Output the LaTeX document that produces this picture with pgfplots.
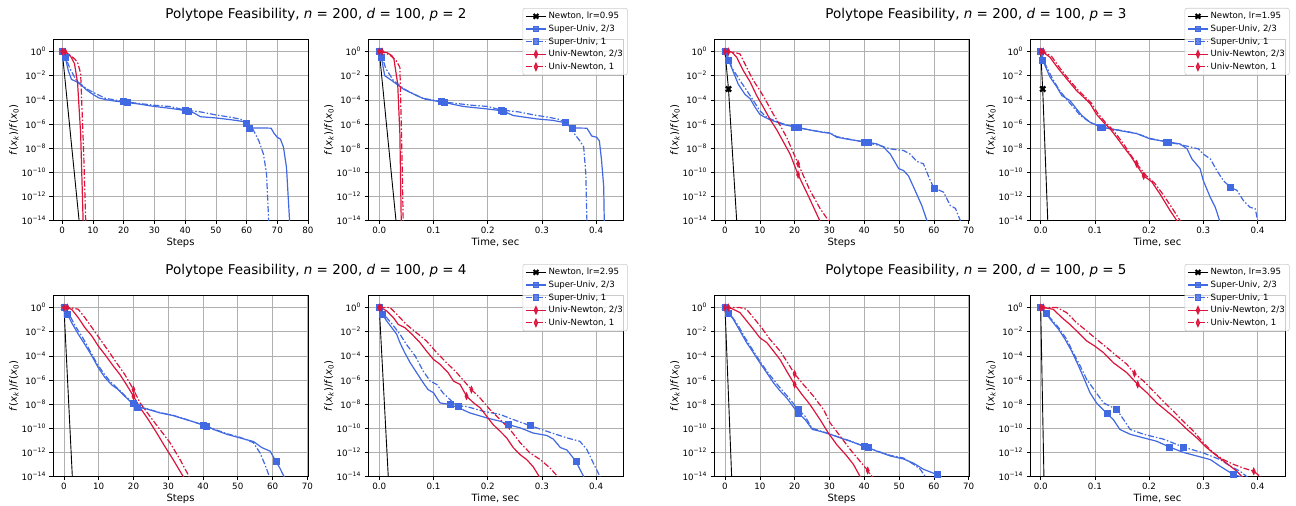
\documentclass[border=0pt]{standalone}
\usepackage{fontspec}
\setmainfont{DejaVu Sans}[ItalicFont={DejaVu Sans Oblique},BoldFont={DejaVu Sans Bold}]
\usepackage{pgfplots}
\pgfplotsset{compat=1.18}

\definecolor{royal}{RGB}{65,105,225}
\definecolor{crim}{RGB}{220,20,60}
\definecolor{gridc}{RGB}{176,176,176}
\definecolor{lgray}{RGB}{204,204,204}

% y data are log10 of f(x_k)/f(x_0); the y axis is labelled in powers of ten
\tikzset{mdd/.style={dash pattern=on 6pt off 2pt on 1.5pt off 2pt}}
\pgfplotsset{
  pf/.style={
    scale only axis, height=181pt, width=255pt,
    ymin=-14, ymax=1,
    ytick={-14,-12,...,0},
    yticklabels={10\textsuperscript{−14},10\textsuperscript{−12},10\textsuperscript{−10},10\textsuperscript{−8},10\textsuperscript{−6},10\textsuperscript{−4},10\textsuperscript{−2},10\textsuperscript{0}},
    grid=major, major grid style={gridc, line width=0.6pt},
    axis line style={line width=0.7pt},
    tick align=outside, xtick pos=bottom, ytick pos=left,
    major tick length=3.5pt, every tick/.style={black, line width=0.6pt},
    tick label style={font=\fontsize{8.7}{10}\selectfont},
    /pgf/number format/assume math mode=true,
    label style={font=\fontsize{8.7}{10}\selectfont},
    every axis x label/.style={at={(axis description cs:0.5,0)}, yshift=-22pt, anchor=center},
    every axis y label/.style={at={(axis description cs:0,0.5)}, xshift=-39pt, rotate=90, anchor=center},
    ylabel={\textit{f}(\textit{x}\textsubscript{\textit{k}})/\textit{f}(\textit{x}\textsubscript{0})},
    legend style={at={(1.018,1.174)}, anchor=north east, draw=lgray, line width=0.6pt,
      rounded corners=2pt, fill=white, fill opacity=0.8, text opacity=1,
      font=\fontsize{8.6}{9}\selectfont, inner xsep=2.5pt, inner ysep=2pt, row sep=0.6pt,
      nodes={font=\fontsize{8.6}{9}\selectfont}},
    legend cell align=left,
    legend image code/.code={\draw[mark repeat=2, mark phase=2, #1]
      plot coordinates {(0pt,0pt) (10pt,0pt) (20pt,0pt)};},
  },
  steps/.style={xlabel=Steps, xtick={0,10,...,80}},
  time/.style={xlabel={Time, sec}, xtick={0,0.1,0.2,0.3,0.4},
    xticklabels={0.0,0.1,0.2,0.3,0.4}},
  newt/.style={black, line width=0.9pt, forget plot},
  ss/.style={royal, line width=1.2pt, forget plot},
  sd/.style={royal, line width=1.2pt, mdd, forget plot},
  us/.style={crim, line width=1.2pt, forget plot},
  ud/.style={crim, line width=1.2pt, mdd, forget plot},
  xm/.style={only marks, black, mark=x, mark size=3.6pt, mark options={line width=2.3pt}, forget plot},
  sqm/.style={only marks, royal, mark=square*, mark size=3pt, forget plot},
  dim/.style={only marks, crim, mark=diamond*, mark size=3.7pt, mark options={xscale=0.6}, forget plot},
}

\newcommand{\pflegend}[1]{%
  \addlegendimage{black, line width=1pt, mark=x, mark size=3.3pt, mark options={line width=2.1pt}}
  \addlegendentry{Newton, lr=#1}
  \addlegendimage{royal, line width=1.2pt, mark=square*, mark size=2.8pt}
  \addlegendentry{Super-Univ, 2/3}
  \addlegendimage{royal, line width=1.2pt, mdd, mark=square*, mark size=2.8pt, mark options={solid}}
  \addlegendentry{Super-Univ, 1}
  \addlegendimage{crim, line width=1.2pt, mark=diamond*, mark size=3.5pt, mark options={xscale=0.6}}
  \addlegendentry{Univ-Newton, 2/3}
  \addlegendimage{crim, line width=1.2pt, mdd, mark=diamond*, mark size=3.5pt, mark options={solid,xscale=0.6}}
  \addlegendentry{Univ-Newton, 1}}

\begin{document}
\begin{tikzpicture}
\useasboundingbox (0,0) rectangle (1296pt,506pt);

% ---------------- p = 2, steps
\begin{axis}[pf, steps, at={(53pt,285.5pt)}, xmin=-3, xmax=80]
\addplot[newt] coordinates {(0,0)(6,-15.3)};
\addplot[ss] coordinates {(0,0)(1,-0.5)(2,-1.6)(3,-2.3)(5,-2.55)(6.3,-2.8)(8,-3.2)(10,-3.55)(12,-3.85)(14.5,-4.0)(17,-4.1)(21,-4.22)(25,-4.35)(30,-4.55)(35,-4.7)(41,-4.92)(43,-5.1)(45,-5.4)(50,-5.5)(55,-5.65)(59,-5.8)(61,-6.33)(65,-6.33)(68,-6.35)(69,-6.8)(70,-7.1)(71,-7.25)(72,-7.9)(73,-9.6)(73.5,-11.8)(74,-14)(74.3,-16)};
\addplot[sd] coordinates {(0,0)(1,-0.4)(2.5,-1.4)(4.6,-2.4)(8,-3.1)(10,-3.37)(14,-3.87)(17,-4.0)(20,-4.15)(25,-4.3)(30,-4.45)(35,-4.55)(40,-4.85)(45,-5.0)(50,-5.25)(55,-5.45)(58,-5.6)(60,-5.9)(62,-6.4)(64,-7.4)(65.5,-8.5)(66.5,-10.1)(67.2,-14)(67.4,-16)};
\addplot[us] coordinates {(0,0)(1,-0.02)(2,-0.2)(3,-0.5)(4,-1.0)(5,-2.6)(6,-6.8)(7,-15.8)};
\addplot[ud] coordinates {(0,0)(1,-0.02)(2,-0.2)(3,-0.4)(4,-0.6)(5,-0.9)(6,-1.8)(7,-8.5)(8,-17)};
\addplot[xm] coordinates {(0,0)};
\addplot[sqm] coordinates {(0,0)(1,-0.5)(21,-4.22)(41,-4.92)(61,-6.33)(20,-4.15)(40,-4.85)(60,-5.9)};
\addplot[dim] coordinates {(0,0)(1,-0.02)};
\end{axis}

% ---------------- p = 2, time
\begin{axis}[pf, time, at={(368pt,285.5pt)}, xmin=-0.0208, xmax=0.4496]
\pflegend{0.95}
\addplot[newt] coordinates {(0,0)(0.033,-15)};
\addplot[ss] coordinates {(0,0)(0.004,-0.5)(0.010,-2.0)(0.023,-2.4)(0.044,-3.1)(0.069,-3.65)(0.085,-3.95)(0.1,-4.06)(0.12,-4.22)(0.155,-4.55)(0.198,-4.75)(0.228,-4.92)(0.247,-5.3)(0.29,-5.58)(0.32,-5.7)(0.343,-5.9)(0.355,-6.33)(0.383,-6.35)(0.392,-7.0)(0.401,-7.1)(0.406,-7.4)(0.41,-9)(0.414,-11.2)(0.415,-14)(0.416,-16)};
\addplot[sd] coordinates {(0,0)(0.005,-0.4)(0.012,-1.4)(0.026,-2.4)(0.046,-3.1)(0.057,-3.37)(0.08,-3.87)(0.097,-4.0)(0.114,-4.15)(0.142,-4.3)(0.171,-4.45)(0.2,-4.55)(0.225,-4.85)(0.257,-5.0)(0.285,-5.25)(0.313,-5.45)(0.33,-5.6)(0.343,-5.85)(0.358,-6.7)(0.37,-7.4)(0.377,-7.9)(0.381,-10.1)(0.383,-14)(0.384,-16)};
\addplot[us] coordinates {(0,0)(0.005,0)(0.015,-0.1)(0.023,-0.33)(0.027,-0.6)(0.034,-2.7)(0.038,-6.8)(0.041,-15.5)};
\addplot[ud] coordinates {(0,0)(0.005,0)(0.02,-0.3)(0.031,-0.75)(0.038,-1.3)(0.041,-6.8)(0.045,-16)};
\addplot[xm] coordinates {(0,0)};
\addplot[sqm] coordinates {(0,0)(0.004,-0.5)(0.12,-4.22)(0.228,-4.92)(0.355,-6.33)(0.114,-4.15)(0.225,-4.85)(0.343,-5.85)};
\addplot[dim] coordinates {(0,0)(0.005,0)};
\end{axis}

% ---------------- p = 3, steps
\begin{axis}[pf, steps, at={(714pt,285.5pt)}, xmin=-3.16, xmax=70.1]
\addplot[newt] coordinates {(0,0)(1,-3.1)(4,-17)};
\addplot[ss] coordinates {(0,0)(1,-0.7)(3.8,-2.7)(5.75,-3.55)(7.2,-3.9)(8.6,-4.6)(10,-5.2)(11.5,-5.45)(12.9,-5.65)(14.9,-5.85)(16.8,-6.05)(21,-6.3)(24.4,-6.5)(28.3,-6.7)(30.2,-6.77)(32.1,-7.1)(36,-7.3)(41,-7.52)(43.6,-7.65)(45.5,-7.9)(47.5,-8.5)(49.9,-9.7)(51.3,-9.86)(52.7,-10.3)(54.6,-11.5)(56.6,-12.8)(58,-14)(58.5,-15)};
\addplot[sd] coordinates {(0,0)(1,-0.4)(1.9,-1.3)(4.3,-2.4)(6.2,-3.2)(8.15,-4.06)(10,-4.9)(12,-5.45)(14.9,-5.8)(16.8,-6.0)(20,-6.25)(24.4,-6.5)(28.3,-6.68)(30.2,-6.75)(32.1,-7.05)(36,-7.28)(40,-7.5)(44.6,-7.8)(47.5,-8.07)(51.3,-8.2)(53.2,-8.5)(55.1,-9.1)(57,-9.3)(59,-10.7)(60,-11.3)(62.8,-11.65)(64.7,-12.75)(66.2,-13)(67.6,-14)(68,-15)};
\addplot[us] coordinates {(0,0)(1,0)(2,-0.05)(3.35,-0.47)(5.3,-1.6)(7.2,-2.5)(9.1,-3.65)(11,-4.6)(12.9,-5.6)(14.9,-6.5)(16.8,-7.5)(18.7,-8.5)(21,-10.2)(24,-12)(27.2,-14)(28,-14.5)};
\addplot[ud] coordinates {(0,0)(1,0)(2.5,-0.05)(4.3,-0.2)(6.2,-1.3)(8.15,-2.4)(10,-3.2)(12,-4.2)(13.9,-5.2)(15.8,-6.1)(17.7,-7.1)(21,-9.3)(24.4,-11.5)(27.3,-13)(29.7,-14)(30.5,-14.5)};
\addplot[xm] coordinates {(0,0)(1,-3.1)};
\addplot[sqm] coordinates {(0,0)(1,-0.7)(21,-6.3)(41,-7.52)(20,-6.25)(40,-7.5)(60,-11.3)};
\addplot[dim] coordinates {(0,0)(1,0)(21,-10.2)(21,-9.3)};
\end{axis}

% ---------------- p = 3, time
\begin{axis}[pf, time, at={(1030pt,285.5pt)}, xmin=-0.0197, xmax=0.4507]
\pflegend{1.95}
\addplot[newt] coordinates {(0,0)(0.0037,-3.1)(0.0156,-17)};
\addplot[ss] coordinates {(0,0)(0.0037,-0.7)(0.017,-2.1)(0.030,-2.95)(0.039,-3.65)(0.054,-4.06)(0.066,-4.75)(0.076,-5.3)(0.091,-5.86)(0.113,-6.27)(0.146,-6.55)(0.177,-6.8)(0.202,-7.24)(0.236,-7.5)(0.257,-7.65)(0.27,-8.06)(0.279,-8.9)(0.294,-9.7)(0.300,-10.7)(0.313,-12.1)(0.322,-12.9)(0.33,-14)(0.333,-15)};
\addplot[sd] coordinates {(0,0)(0.008,-1)(0.02,-2.1)(0.033,-3.1)(0.045,-3.8)(0.06,-4.6)(0.073,-5.3)(0.091,-5.86)(0.11,-6.25)(0.146,-6.52)(0.177,-6.78)(0.202,-7.2)(0.232,-7.48)(0.251,-7.65)(0.276,-7.9)(0.291,-8.07)(0.3,-8.5)(0.313,-8.9)(0.325,-9.86)(0.337,-10.7)(0.35,-11.25)(0.362,-11.5)(0.374,-12.35)(0.386,-12.9)(0.396,-13.04)(0.4,-14)(0.402,-15)};
\addplot[us] coordinates {(0,0)(0.003,0)(0.017,-0.47)(0.033,-1.44)(0.048,-2.26)(0.066,-3.23)(0.082,-3.9)(0.091,-4.3)(0.103,-5.2)(0.116,-5.86)(0.128,-6.4)(0.14,-7.1)(0.153,-7.9)(0.165,-8.6)(0.19,-10.3)(0.205,-10.8)(0.22,-11.8)(0.239,-13.2)(0.251,-14)(0.255,-14.3)};
\addplot[ud] coordinates {(0,0)(0.005,0)(0.02,-0.4)(0.036,-1.4)(0.05,-2.2)(0.068,-3.15)(0.084,-3.85)(0.094,-4.3)(0.105,-5.1)(0.118,-5.8)(0.13,-6.35)(0.142,-7.0)(0.155,-7.8)(0.177,-9.3)(0.195,-10.3)(0.21,-10.9)(0.225,-11.8)(0.243,-13.0)(0.257,-14)(0.26,-14.3)};
\addplot[xm] coordinates {(0,0)(0.0037,-3.1)};
\addplot[sqm] coordinates {(0,0)(0.0037,-0.7)(0.113,-6.27)(0.236,-7.5)(0.11,-6.25)(0.232,-7.48)(0.35,-11.25)};
\addplot[dim] coordinates {(0,0)(0.005,0)(0.19,-10.3)(0.177,-9.3)};
\end{axis}

% ---------------- p = 4, steps
\begin{axis}[pf, steps, at={(53pt,29.5pt)}, xmin=-3.16, xmax=70.2]
\addplot[newt] coordinates {(0,0)(3,-17.5)};
\addplot[ss] coordinates {(0,0)(1,-0.55)(2.2,-1.25)(4.1,-2.2)(6,-3.05)(8,-4.0)(9.9,-5)(11.8,-5.8)(13.7,-6.4)(15.6,-6.8)(17.5,-7.35)(19.5,-7.9)(21,-8.23)(23.8,-8.4)(27.6,-8.73)(31.4,-8.95)(35.3,-9.3)(41,-9.8)(43,-10.1)(46.8,-10.5)(50.6,-10.8)(54.5,-11.1)(56.9,-11.6)(59.3,-11.9)(61,-12.75)(62.1,-13.3)(63.3,-14)(64,-15)};
\addplot[sd] coordinates {(0,0)(1.2,-0.4)(3.2,-1.5)(5.6,-2.6)(7.5,-3.6)(9.4,-4.6)(11.3,-5.4)(13.2,-6.1)(15.6,-6.75)(17.5,-7.3)(20,-7.95)(21,-8.2)(23.8,-8.38)(27.6,-8.7)(31.4,-8.93)(35.3,-9.28)(40,-9.73)(43,-10.05)(46.8,-10.45)(50.6,-10.75)(52.5,-10.95)(54.5,-11.2)(56.4,-12.05)(57.8,-13.0)(59.1,-14)(59.5,-15)};
\addplot[us] coordinates {(0,0)(1,0)(2.2,-0.15)(4.1,-0.83)(6,-1.66)(8,-2.35)(9.9,-3.2)(11.8,-3.9)(14.2,-4.85)(16.1,-5.55)(18,-6.4)(20,-7.35)(21.9,-8.3)(24.3,-9.3)(26.7,-10.4)(29,-11.5)(31.4,-12.6)(34.3,-14)(35,-14.4)};
\addplot[ud] coordinates {(0,0)(1,0)(2.5,-0.05)(4.1,-0.14)(6,-0.83)(8.4,-1.8)(10.4,-2.63)(12.8,-3.6)(15.1,-4.57)(17.5,-5.55)(20,-6.8)(21.9,-7.9)(24.7,-9.0)(27.6,-10.1)(30.5,-11.2)(33.4,-12.6)(36,-14)(37,-14.5)};
\addplot[xm] coordinates {(0,0)};
\addplot[sqm] coordinates {(0,0)(1,-0.55)(21,-8.23)(41,-9.8)(61,-12.75)(20,-7.95)(40,-9.73)};
\addplot[dim] coordinates {(0,0)(1,0)(20,-7.35)(20,-6.8)};
\end{axis}

% ---------------- p = 4, time
\begin{axis}[pf, time, at={(368pt,29.5pt)}, xmin=-0.0208, xmax=0.4496]
\pflegend{2.95}
\addplot[newt] coordinates {(0,0)(0.018,-15.2)};
\addplot[ss] coordinates {(0,0)(0.0055,-0.55)(0.0135,-1.1)(0.023,-1.66)(0.032,-2.2)(0.038,-2.9)(0.047,-3.74)(0.057,-4.57)(0.069,-5.4)(0.081,-6.23)(0.09,-6.8)(0.1,-7.06)(0.112,-7.9)(0.13,-8.03)(0.146,-8.3)(0.167,-8.73)(0.198,-9.14)(0.223,-9.42)(0.238,-9.7)(0.26,-9.97)(0.284,-10.4)(0.309,-10.6)(0.321,-10.9)(0.334,-11.6)(0.346,-11.8)(0.363,-12.75)(0.37,-13.4)(0.377,-14)(0.38,-14.5)};
\addplot[sd] coordinates {(0,0)(0.0135,-0.83)(0.026,-1.5)(0.038,-2.2)(0.05,-3.05)(0.066,-4.0)(0.081,-5.26)(0.094,-6.1)(0.106,-6.37)(0.118,-7.1)(0.137,-7.9)(0.146,-8.15)(0.161,-8.2)(0.192,-8.6)(0.223,-8.86)(0.247,-9.28)(0.278,-9.78)(0.309,-10.25)(0.346,-10.8)(0.37,-11.08)(0.383,-11.77)(0.395,-12.9)(0.407,-14)(0.41,-14.5)};
\addplot[us] coordinates {(0,0)(0.003,0)(0.0135,-0.28)(0.026,-0.83)(0.035,-1.4)(0.047,-1.66)(0.06,-2.2)(0.075,-2.9)(0.087,-3.6)(0.1,-4.3)(0.112,-4.7)(0.127,-5.4)(0.137,-6.1)(0.149,-6.37)(0.161,-7.34)(0.174,-7.9)(0.186,-8.3)(0.198,-9.0)(0.21,-9.7)(0.223,-10.25)(0.235,-10.8)(0.247,-11.6)(0.26,-12.2)(0.272,-12.6)(0.284,-13.2)(0.295,-14)(0.3,-14.4)};
\addplot[ud] coordinates {(0,0)(0.003,0)(0.02,0)(0.032,-0.55)(0.05,-1.4)(0.069,-2.1)(0.087,-2.77)(0.106,-3.74)(0.124,-4.57)(0.143,-5.4)(0.17,-6.8)(0.186,-7.5)(0.204,-8.45)(0.223,-9.28)(0.241,-10.1)(0.26,-11.2)(0.278,-12.05)(0.297,-12.6)(0.315,-13.3)(0.329,-14)(0.335,-14.4)};
\addplot[xm] coordinates {(0,0)};
\addplot[sqm] coordinates {(0,0)(0.0055,-0.55)(0.13,-8.03)(0.238,-9.7)(0.363,-12.75)(0.146,-8.15)(0.278,-9.78)};
\addplot[dim] coordinates {(0,0)(0.003,0)(0.161,-7.34)(0.17,-6.8)};
\end{axis}

% ---------------- p = 5, steps
\begin{axis}[pf, steps, at={(714pt,29.5pt)}, xmin=-3.16, xmax=70.1]
\addplot[newt] coordinates {(0,0)(2.1,-15.4)};
\addplot[ss] coordinates {(0,0)(1,-0.47)(2.4,-0.97)(4.3,-1.94)(6.2,-2.9)(8.15,-3.74)(10,-4.57)(12,-5.4)(13.9,-6.23)(15.8,-6.9)(17.7,-7.48)(19.8,-8.3)(21,-8.73)(23,-9.28)(25.1,-10.1)(27.3,-10.25)(30.2,-10.5)(33.1,-10.8)(36,-11.08)(41,-11.6)(43.6,-11.9)(47.5,-12.3)(51.3,-12.55)(54.2,-12.9)(57,-13.4)(61,-13.85)(62,-14)(63,-14.3)};
\addplot[sd] coordinates {(0,0)(1.9,-0.7)(3.8,-1.5)(5.75,-2.5)(8.15,-3.6)(10,-4.43)(12,-5.26)(13.9,-5.96)(15.8,-6.65)(18.7,-7.6)(20,-8.1)(21,-8.45)(23,-9.0)(24.9,-9.97)(27.3,-10.22)(30.2,-10.48)(33.1,-10.78)(36,-11.05)(40,-11.52)(43.6,-11.88)(47.5,-12.25)(51.3,-12.47)(54.2,-13.0)(56.1,-13.4)(57.5,-14)(58,-14.3)};
\addplot[us] coordinates {(0,0)(1,0)(2.4,-0.14)(4.3,-0.42)(6.2,-1.1)(8.15,-1.8)(10,-2.5)(12,-2.9)(13.9,-3.6)(15.8,-4.3)(17.7,-5.26)(20,-6.37)(22.1,-7.2)(24.4,-8.03)(27.3,-9.28)(29.7,-10.4)(32.1,-11.36)(35,-12.3)(36.9,-13.0)(38.8,-14)(39.5,-14.4)};
\addplot[ud] coordinates {(0,0)(1,0)(4.3,0)(6.2,-0.14)(8.15,-0.83)(10.5,-1.66)(12.9,-2.63)(15.8,-3.6)(17.7,-4.43)(20,-5.5)(22.5,-6.37)(25.4,-7.34)(28.3,-8.45)(30.2,-9.56)(33.1,-10.66)(36,-11.77)(38.8,-12.74)(41,-13.5)(42.2,-14)(43,-14.3)};
\addplot[xm] coordinates {(0,0)};
\addplot[sqm] coordinates {(0,0)(1,-0.47)(21,-8.73)(41,-11.6)(61,-13.85)(21,-8.45)(40,-11.52)};
\addplot[dim] coordinates {(0,0)(1,0)(20,-6.37)(20,-5.5)(41,-13.5)};
\end{axis}

% ---------------- p = 5, time
\begin{axis}[pf, time, at={(1030pt,29.5pt)}, xmin=-0.0197, xmax=0.4507]
\pflegend{3.95}
\addplot[newt] coordinates {(0,0)(0.0065,-15.2)};
\addplot[ss] coordinates {(0,0)(0.0098,-0.47)(0.02,-1.1)(0.033,-1.8)(0.045,-2.63)(0.057,-3.6)(0.07,-4.85)(0.082,-6.1)(0.091,-7.06)(0.103,-7.9)(0.122,-8.78)(0.134,-9.28)(0.146,-10.1)(0.165,-10.5)(0.19,-10.8)(0.214,-11.08)(0.237,-11.55)(0.263,-12.0)(0.288,-12.3)(0.313,-12.6)(0.331,-13.15)(0.356,-13.85)(0.368,-14)(0.375,-14.2)};
\addplot[sd] coordinates {(0,0)(0.017,-0.83)(0.033,-1.66)(0.048,-2.63)(0.06,-3.74)(0.073,-4.85)(0.085,-5.96)(0.1,-6.9)(0.116,-7.9)(0.14,-8.45)(0.153,-9.28)(0.165,-10.1)(0.19,-10.5)(0.226,-10.9)(0.263,-11.55)(0.3,-12.05)(0.331,-12.6)(0.35,-13.15)(0.368,-13.57)(0.38,-14)(0.385,-14.2)};
\addplot[us] coordinates {(0,0)(0.005,0)(0.023,-0.14)(0.039,-0.83)(0.054,-1.4)(0.07,-2.1)(0.085,-2.77)(0.1,-3.2)(0.116,-3.74)(0.134,-4.57)(0.159,-5.4)(0.179,-6.37)(0.196,-7.06)(0.214,-7.9)(0.233,-8.6)(0.251,-9.28)(0.27,-10.1)(0.288,-10.8)(0.306,-11.6)(0.325,-12.3)(0.343,-12.9)(0.362,-13.57)(0.371,-14)(0.375,-14.2)};
\addplot[ud] coordinates {(0,0)(0.005,0)(0.03,0)(0.048,-0.42)(0.066,-1.25)(0.085,-1.94)(0.103,-2.63)(0.122,-3.32)(0.14,-4.0)(0.159,-4.7)(0.173,-5.46)(0.19,-6.1)(0.208,-6.93)(0.226,-7.76)(0.245,-8.6)(0.263,-9.42)(0.282,-10.25)(0.3,-11.2)(0.319,-12.05)(0.337,-12.6)(0.356,-13.0)(0.374,-13.3)(0.393,-13.57)(0.405,-14)(0.41,-14.2)};
\addplot[xm] coordinates {(0,0)};
\addplot[sqm] coordinates {(0,0)(0.0098,-0.47)(0.122,-8.78)(0.237,-11.55)(0.356,-13.85)(0.14,-8.45)(0.263,-11.55)};
\addplot[dim] coordinates {(0,0)(0.005,0)(0.179,-6.37)(0.173,-5.46)(0.393,-13.57)};
\end{axis}

\begin{scope}[every node/.style={anchor=base, font=\fontsize{13.5}{15}\selectfont}]
\node at (316pt,487pt) {Polytope Feasibility, \textit{n} = 200, \textit{d} = 100, \textit{p} = 2};
\node at (976pt,487pt) {Polytope Feasibility, \textit{n} = 200, \textit{d} = 100, \textit{p} = 3};
\node at (316pt,231pt) {Polytope Feasibility, \textit{n} = 200, \textit{d} = 100, \textit{p} = 4};
\node at (976pt,231pt) {Polytope Feasibility, \textit{n} = 200, \textit{d} = 100, \textit{p} = 5};
\end{scope}
\end{tikzpicture}
\end{document}
